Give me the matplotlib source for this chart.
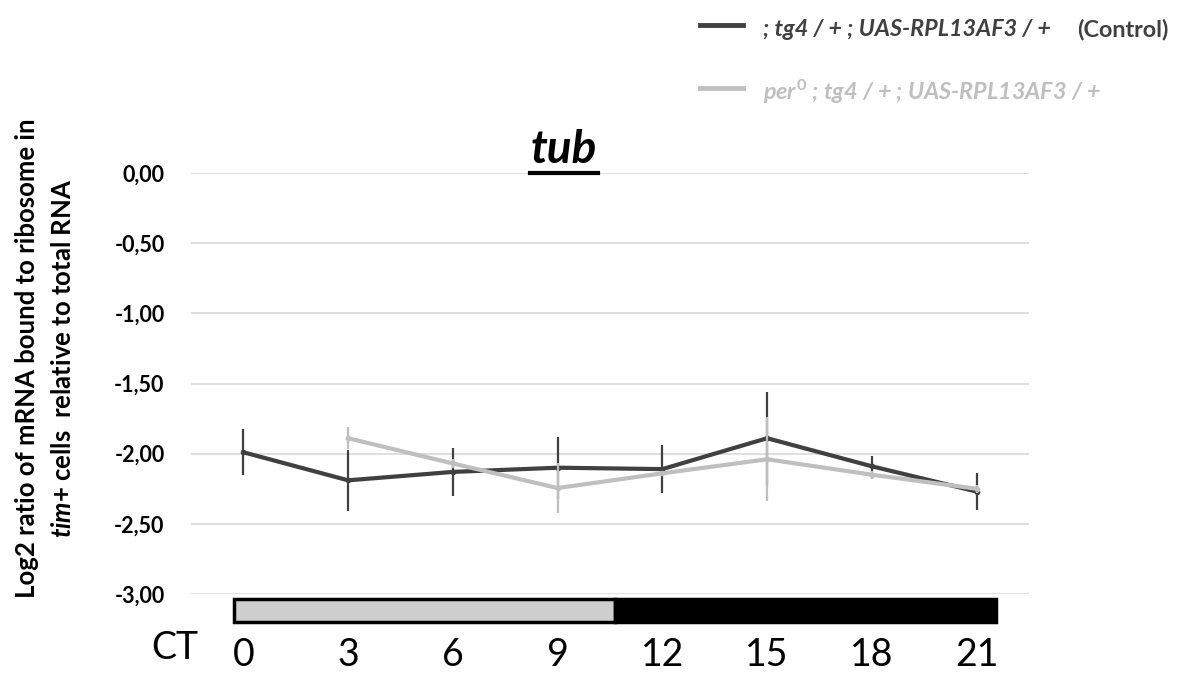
import matplotlib.pyplot as plt
from matplotlib.patches import Rectangle
from matplotlib.lines import Line2D

plt.rcParams['font.family'] = ['Lato', 'DejaVu Sans']
plt.rcParams['mathtext.fontset'] = 'custom'
plt.rcParams['mathtext.it'] = 'Lato:italic:bold'
plt.rcParams['mathtext.rm'] = 'Lato:bold'
plt.rcParams['mathtext.bf'] = 'Lato:bold'

# ------------------- data -------------------
ct = [0, 3, 6, 9, 12, 15, 18, 21]
ct_labels = ['0', '3', '6', '9', '12', '15', '18', '21']

control = [-1.99, -2.19, -2.13, -2.10, -2.11, -1.89, -2.09, -2.27]
control_err = [0.165, 0.215, 0.17, 0.22, 0.17, 0.33, 0.07, 0.13]

per0_ct = [3, 6, 9, 12, 15, 18, 21]
per0 = [-1.89, -2.07, -2.245, -2.14, -2.04, -2.15, -2.25]
per0_err = [0.08, 0.03, 0.18, 0.02, 0.30, 0.03, 0.03]

y_ticks = [0, -0.5, -1.0, -1.5, -2.0, -2.5, -3.0]
y_labels = ['0,00', '-0,50', '-1,00', '-1,50', '-2,00', '-2,50', '-3,00']

# light / dark bar (subjective day, subjective night)
light_start, light_end, dark_end = -0.26, 10.63, 21.55

DARK = '#404040'
GREY = '#bfbfbf'

fig = plt.figure(figsize=(11.78, 6.75), dpi=100)
ax = fig.add_axes([191 / 1178, 1 - 594 / 675, (1029 - 191) / 1178, (594 - 173) / 675])

ax.errorbar(ct, control, yerr=control_err, color=DARK, lw=3, elinewidth=1.6,
            capsize=0, marker='o', ms=3, zorder=3)
ax.errorbar(per0_ct, per0, yerr=per0_err, color=GREY, lw=3, elinewidth=1.6,
            capsize=0, marker='o', ms=3, zorder=4)

ax.set_xlim(-1.5, 22.5)
ax.set_ylim(-3, 0)
ax.set_yticks(y_ticks)
ax.set_yticklabels(y_labels, fontsize=15.5, fontweight='bold')
ax.set_xticks(ct)
ax.set_xticklabels(ct_labels, fontsize=27)
ax.tick_params(axis='y', length=0, pad=19)
ax.tick_params(axis='x', length=0, pad=31)
ax.grid(axis='y', color='#d9d9d9', lw=1.2)
ax.set_axisbelow(True)
for s in ax.spines.values():
    s.set_visible(False)

# light/dark bar
ax.add_patch(Rectangle((light_start, -3.20), light_end - light_start, 0.165,
                       facecolor='#d0cfd0', edgecolor='black', lw=2.5, clip_on=False, zorder=5))
ax.add_patch(Rectangle((light_end, -3.20), dark_end - light_end, 0.165,
                       facecolor='black', edgecolor='black', lw=2.5, clip_on=False, zorder=5))

fig.text(175 / 1178, 1 - 648 / 675, 'CT', fontsize=27, ha='center', va='center')

# title
fig.text(564 / 1178, 1 - 150 / 675, 'tub', fontsize=33, fontweight='bold',
         style='italic', ha='center', va='center')
fig.add_artist(Line2D([530 / 1178, 598 / 1178], [1 - 173 / 675, 1 - 173 / 675],
                      color='black', lw=3, transform=fig.transFigure))

# y label
fig.text(27 / 1178, 1 - 358 / 675, 'Log2 ratio of mRNA bound to ribosome in',
         fontsize=18.5, fontweight='bold', rotation=90, ha='center', va='center')
fig.text(63 / 1178, 1 - 358 / 675, '$tim$+ cells  relative to total RNA',
         fontsize=18.5, fontweight='bold', rotation=90, ha='center', va='center')

# legend
fig.add_artist(Line2D([700 / 1178, 743 / 1178], [1 - 25 / 675, 1 - 25 / 675],
                      color=DARK, lw=3.5, transform=fig.transFigure))
fig.text(763 / 1178, 1 - 30 / 675, '; tg4 / + ; UAS-RPL13AF3 / +', fontsize=16.8,
         fontweight='bold', style='italic', color=DARK, va='center')
fig.text(1168 / 1178, 1 - 30 / 675, '(Control)', fontsize=16.8,
         fontweight='bold', color=DARK, va='center', ha='right')
fig.add_artist(Line2D([700 / 1178, 743 / 1178], [1 - 88 / 675, 1 - 88 / 675],
                      color=GREY, lw=3.5, transform=fig.transFigure))
fig.text(763 / 1178, 1 - 92 / 675, r'$per^0$ ; tg4 / + ; UAS-RPL13AF3 / +', fontsize=16.8,
         fontweight='bold', style='italic', color=GREY, va='center')

fig.savefig('out.png', dpi=100)
